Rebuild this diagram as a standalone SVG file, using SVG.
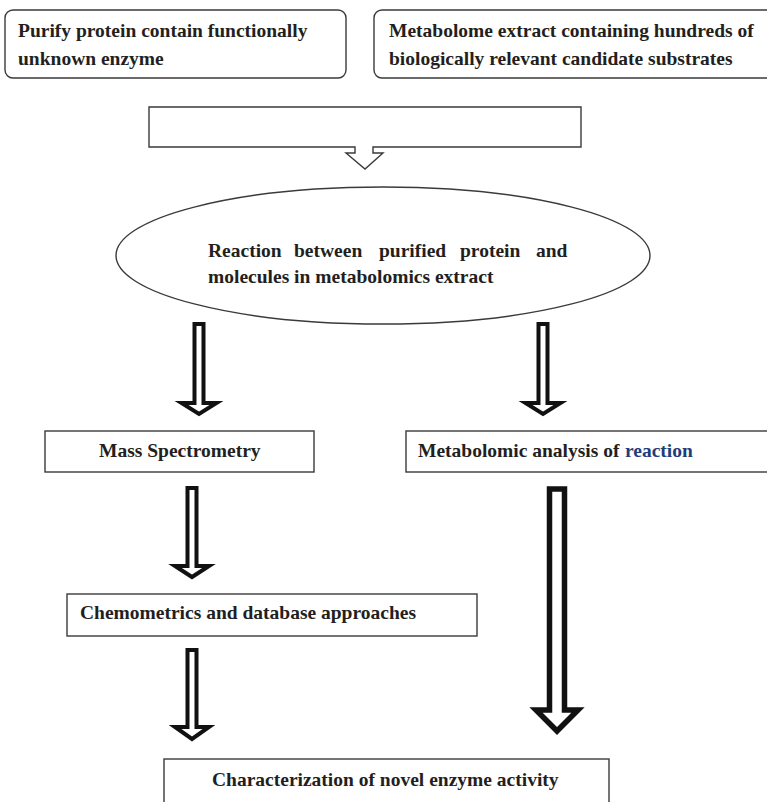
<svg xmlns="http://www.w3.org/2000/svg" width="767" height="802" viewBox="0 0 767 802">
<style>
.box{fill:#fff;stroke:#3a3a3a;stroke-width:1.4}
.t{font-family:"Liberation Serif","Times New Roman",serif;font-weight:bold;font-size:19.5px;fill:#231f20}
.arr{fill:#fff;stroke:#111;stroke-width:4;stroke-linejoin:miter;stroke-miterlimit:10}
</style>
<rect width="767" height="802" fill="#fff"/>
<g id="purify">
<rect class="box" x="5" y="10" width="341" height="68" rx="8"/>
<text class="t" x="18" y="37">Purify protein contain functionally</text>
<text class="t" x="18" y="65">unknown enzyme</text>
</g>
<g id="metabolome">
<rect class="box" x="374" y="10" width="410" height="68" rx="8"/>
<text class="t" x="389" y="37">Metabolome extract containing hundreds of</text>
<text class="t" x="389" y="65">biologically relevant candidate substrates</text>
</g>
<g id="merge">
<path class="box" d="M149,107 H581 V147 H373 V153 H383 L365,169 L346,153 H355 V147 H149 Z"/>
</g>
<g id="reaction">
<ellipse class="box" cx="383" cy="255.5" rx="267" ry="68.5"/>
<text class="t" x="208" y="257">Reaction</text>
<text class="t" x="294" y="257">between</text>
<text class="t" x="379" y="257">purified</text>
<text class="t" x="460" y="257">protein</text>
<text class="t" x="536" y="257">and</text>
<text class="t" x="208" y="283">molecules in metabolomics extract</text>
</g>
<g id="mass">
<rect class="box" x="45" y="431" width="269" height="41"/>
<text class="t" x="99" y="457">Mass Spectrometry</text>
</g>
<g id="metanalysis">
<rect class="box" x="406" y="431" width="380" height="41"/>
<text class="t" x="418" y="457">Metabolomic analysis of</text>
<text class="t" x="625" y="457" style="fill:#1f3d7a">reaction</text>
</g>
<g id="chemometrics">
<rect class="box" x="67" y="594" width="410" height="42"/>
<text class="t" x="80" y="619">Chemometrics and database approaches</text>
</g>
<g id="characterization">
<rect class="box" x="164" y="759" width="445" height="60"/>
<text class="t" x="212" y="786">Characterization of novel enzyme activity</text>
</g>
<g id="connectors">
<path class="arr" d="M194.5,324 H203.5 V403 H216.5 L199,414 L181.5,403 H194.5 Z"/>
<path class="arr" d="M538.5,324 H547.5 V403 H560.5 L543,414 L525.5,403 H538.5 Z"/>
<path class="arr" d="M187.5,488 H196.5 V566 H209 L192,577 L175,566 H187.5 Z"/>
<path class="arr" d="M187.5,650 H196.5 V727 H209 L192,739 L175,727 H187.5 Z"/>
<path class="arr" style="stroke-width:5.5" d="M549.5,489 H564.5 V710 H578 L557,731 L536,710 H549.5 Z"/>
</g>
</svg>
